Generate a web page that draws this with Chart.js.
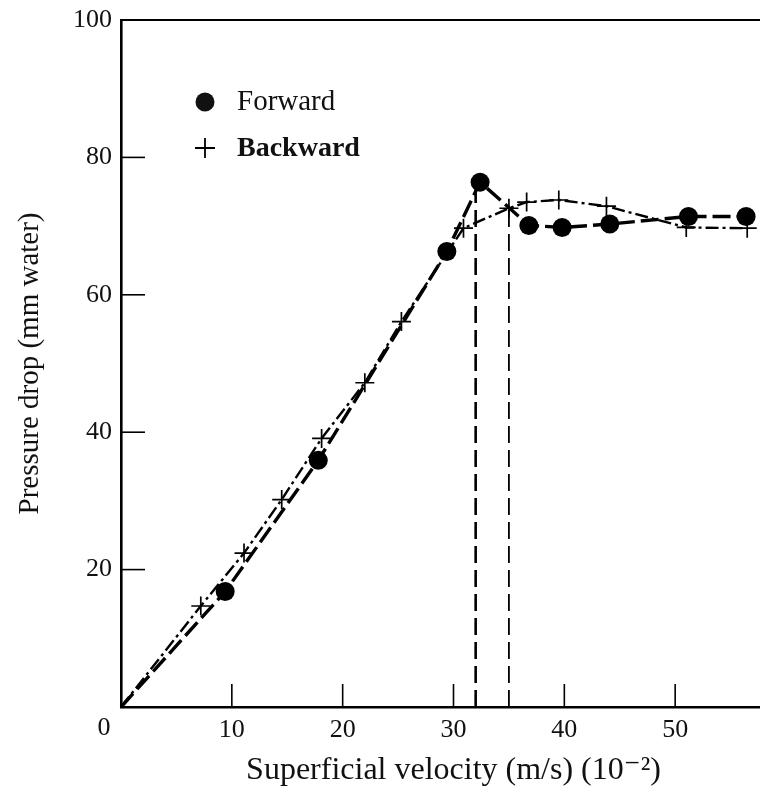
<!DOCTYPE html>
<html><head><meta charset="utf-8">
<script src="https://cdn.jsdelivr.net/npm/chart.js@4/dist/chart.umd.min.js"></script>
<style>
html,body{margin:0;padding:0;background:#fff;overflow:hidden;width:760px;height:792px}
#wrap{width:786px;height:792px;position:relative}
canvas{display:block}
</style>
</head><body><div id="wrap"><canvas id="c"></canvas></div>
<script>
// ---- data ----
const xTickValues = [0, 10, 20, 30, 40, 50];
const yTickValues = [0, 20, 40, 60, 80, 100];
const forwardX = [0, 9.4, 17.8, 29.4, 32.4, 36.8, 39.8, 44.1, 51.2, 56.4];
const forwardY = [0, 16.8, 35.9, 66.3, 76.4, 70.1, 69.8, 70.3, 71.4, 71.4];
const backwardX = [0, 7.2, 11.1, 14.5, 18.1, 22.0, 25.3, 30.9, 35.0, 36.6, 39.5, 43.8, 51.0, 56.5];
const backwardY = [0, 14.7, 22.4, 30.2, 39.1, 47.2, 56.1, 69.7, 72.6, 73.5, 73.8, 72.9, 69.8, 69.7];
const markerLineX = [32, 35];
const markerLineTop = [75.5, 72.6];
const seriesNames = ['Forward', 'Backward'];
const xTitle = 'Superficial velocity (m/s) (10\u207B\u00B2)';
const yTitle = 'Pressure drop (mm water)';

const FONT = "'Liberation Serif', 'DejaVu Serif', serif";
const pts = (xs, ys) => xs.map((x, i) => ({x, y: ys[i]}));
const noPad = s => { s.paddingTop = 0; s.paddingBottom = 0; s.paddingLeft = 0; s.paddingRight = 0; };

const frame = {
  id: 'frame',
  afterDraw(chart) {
    const {ctx, chartArea: a, scales: {x, y}} = chart;
    ctx.save();
    ctx.strokeStyle = '#000';
    // top border
    ctx.lineWidth = 2.2;
    ctx.beginPath(); ctx.moveTo(a.left, a.top); ctx.lineTo(a.right, a.top); ctx.stroke();
    // inward ticks
    ctx.lineWidth = 1.6;
    x.ticks.forEach(t => {
      if (t.value === 0) return;
      const px = x.getPixelForValue(t.value);
      ctx.beginPath(); ctx.moveTo(px, a.bottom); ctx.lineTo(px, a.bottom - 23); ctx.stroke();
    });
    y.ticks.forEach(t => {
      if (t.value === 0) return;
      const py = y.getPixelForValue(t.value);
      ctx.beginPath(); ctx.moveTo(a.left, py); ctx.lineTo(a.left + 24, py); ctx.stroke();
    });
    // shared origin label
    ctx.fillStyle = '#111';
    ctx.font = '26px ' + FONT;
    ctx.textAlign = 'center'; ctx.textBaseline = 'middle';
    ctx.fillText('0', a.left - 17, a.bottom + 21);
    // legend
    ctx.textAlign = 'left';
    ctx.font = '29px ' + FONT;
    const lx = a.left + 84;
    ctx.beginPath(); ctx.arc(lx, a.top + 82, 9.5, 0, Math.PI * 2); ctx.fill();
    ctx.fillText(seriesNames[0], lx + 32, a.top + 82);
    ctx.lineWidth = 1.8;
    const cy = a.top + 128;
    ctx.beginPath(); ctx.moveTo(lx - 10, cy); ctx.lineTo(lx + 10, cy);
    ctx.moveTo(lx, cy - 10); ctx.lineTo(lx, cy + 10); ctx.stroke();
    ctx.font = 'bold 28px ' + FONT;
    ctx.fillText(seriesNames[1], lx + 32, cy + 1);
    ctx.restore();
  }
};

new Chart(document.getElementById('c'), {
  type: 'scatter',
  data: {
    datasets: [
      {
        label: seriesNames[0],
        data: pts(forwardX, forwardY),
        showLine: true,
        borderColor: '#000', backgroundColor: '#000',
        borderWidth: 3.4, borderDash: [18, 6],
        pointStyle: 'circle',
        pointRadius: c => (c.dataIndex === 0 ? 0 : 9.5),
        pointBorderWidth: 0,
        clip: false
      },
      {
        label: seriesNames[1],
        data: pts(backwardX, backwardY),
        showLine: true,
        borderColor: '#000', backgroundColor: '#000',
        borderWidth: 2.4, borderDash: [13, 4, 3, 4],
        pointStyle: 'cross',
        pointRadius: c => (c.dataIndex === 0 ? 0 : 9.5),
        pointBorderWidth: 1.7,
        clip: false
      },
      ...markerLineX.map((mx, i) => ({
        label: 'v' + i,
        data: [{x: mx, y: 0}, {x: mx, y: markerLineTop[i]}],
        showLine: true,
        borderColor: '#000',
        borderWidth: i === 0 ? 2.6 : 1.8,
        borderDash: [17, 7],
        pointRadius: 0
      }))
    ]
  },
  options: {
    responsive: true, maintainAspectRatio: false, animation: false,
    layout: {autoPadding: false, padding: {left: 0, right: 0, top: 20, bottom: 0}},
    plugins: {legend: {display: false}, tooltip: {enabled: false}},
    scales: {
      x: {
        type: 'linear', min: 0, max: 60,
        afterBuildTicks: s => { s.ticks = xTickValues.map(v => ({value: v})); },
        afterFit: s => { s.height = 85; noPad(s); },
        grid: {display: false, drawTicks: false},
        border: {display: true, color: '#000', width: 2.6},
        ticks: {
          color: '#111', padding: 8,
          font: {family: FONT, size: 26},
          callback: v => (v === 0 ? '' : String(v))
        },
        title: {display: true, text: xTitle, color: '#111', font: {family: FONT, size: 32}, padding: {top: 0, bottom: 2}}
      },
      y: {
        type: 'linear', min: 0, max: 100,
        afterBuildTicks: s => { s.ticks = yTickValues.map(v => ({value: v})); },
        afterFit: s => { s.width = 121; noPad(s); },
        grid: {display: false, drawTicks: false},
        border: {display: true, color: '#000', width: 2.6},
        ticks: {
          color: '#111', padding: 9,
          font: {family: FONT, size: 26},
          callback: v => (v === 0 ? '' : String(v))
        },
        title: {display: true, text: yTitle, color: '#111', font: {family: FONT, size: 29}, padding: {top: 13, bottom: 0}}
      }
    }
  },
  plugins: [frame]
});
</script></body></html>
